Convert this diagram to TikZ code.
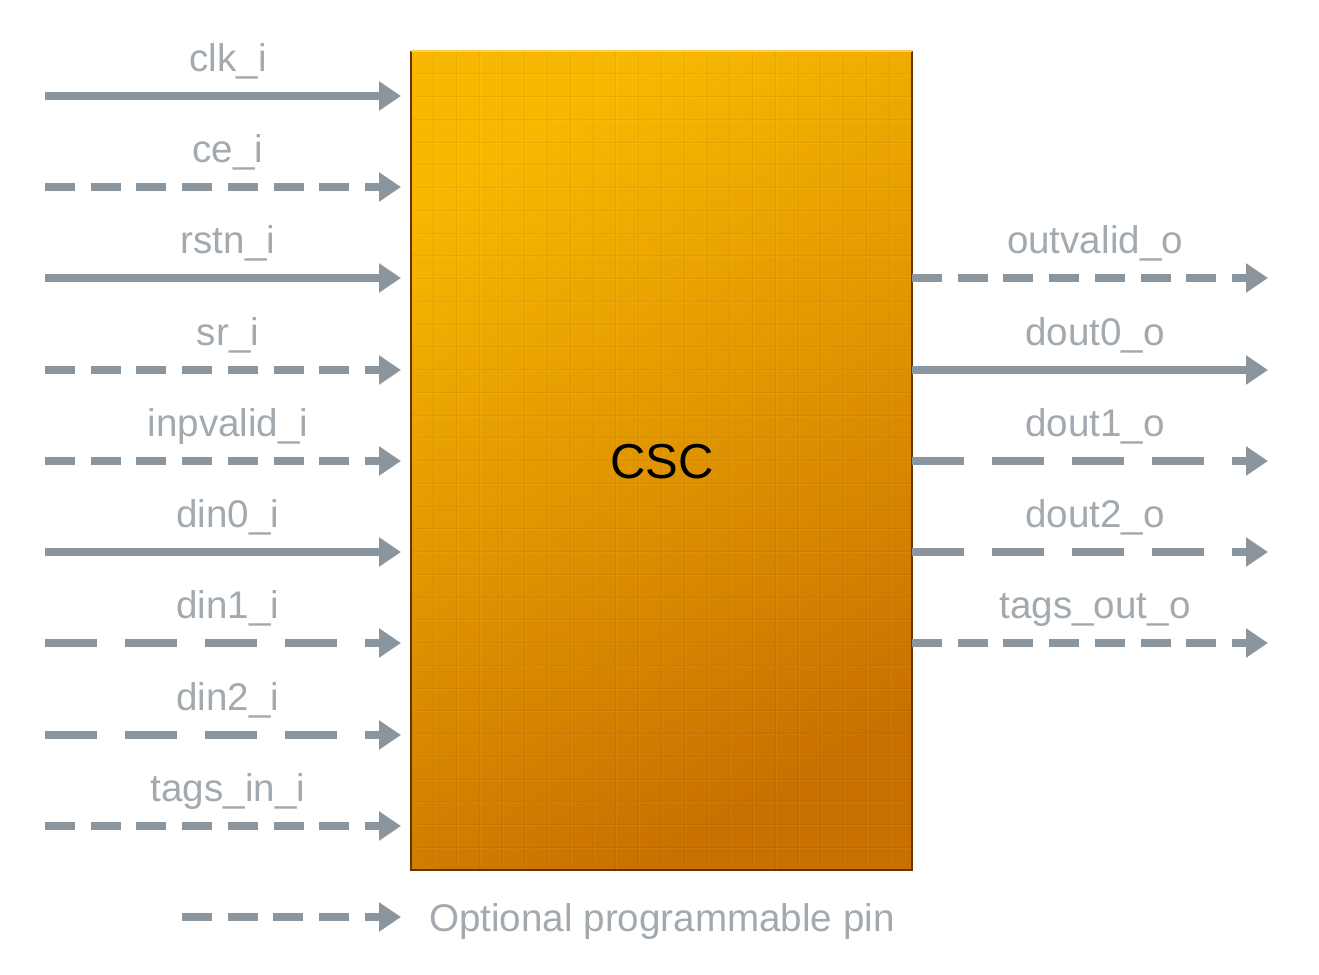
\documentclass[tikz,border=0pt]{standalone}
\usepackage{fontspec}
\setmainfont{Liberation Sans}
\usetikzlibrary{arrows.meta}
\definecolor{pin}{HTML}{8B959D}
\definecolor{pinhi}{HTML}{B3BBC1}
\definecolor{lbl}{HTML}{A2AAB0}
\definecolor{boxa}{HTML}{F8B800}
\definecolor{boxb}{HTML}{C87000}
\definecolor{boxedge}{HTML}{6A3400}
\tikzset{
  pinline/.style={draw=pin, line width=8pt, line cap=butt,
    -{Triangle[length=22pt,width=28pt]}},
  shortdash/.style={dash pattern=on 30pt off 15.7pt},
  longdash/.style={dash pattern=on 52pt off 28pt},
  pinlabel/.style={text=lbl, font=\fontsize{38.6}{40}\selectfont, inner sep=0pt, anchor=base},
}
\begin{document}
\begin{tikzpicture}[x=1pt,y=-1pt]
\useasboundingbox (0,0) rectangle (1319,974);
% block
\node[draw=none, minimum width=501pt, minimum height=819pt, inner sep=0pt] (csc) at (661.5,460.5) {};
\shade[top color=boxa, bottom color=boxb, shading angle=30] (csc.south west) rectangle (csc.north east);
\begin{scope}
\clip (csc.south west) rectangle (csc.north east);
\foreach \i in {1,...,21} \draw[black, opacity=0.05, line width=1pt] (411+\i*22.77,51) -- (411+\i*22.77,870);
\foreach \j in {1,...,35} \draw[black, opacity=0.05, line width=1pt] (411,51+\j*22.75) -- (912,51+\j*22.75);
\foreach \i in {1,...,21} \draw[white, opacity=0.06, line width=1pt] (412+\i*22.77,51) -- (412+\i*22.77,870);
\foreach \j in {1,...,35} \draw[white, opacity=0.06, line width=1pt] (411,52+\j*22.75) -- (912,52+\j*22.75);
\end{scope}
\draw[boxedge, line width=2pt] (csc.north west) -- (csc.south west) -- (csc.south east) -- (csc.north east);
\draw[boxa!70!white, line width=1.5pt] (csc.north west) -- (csc.north east);
\node[font=\fontsize{49}{50}\selectfont, inner sep=0pt, anchor=base] (csclbl) at (662,478) {CSC};
% inputs
\foreach \n/\y/\sty/\t in {clk/96/solid/clk\_i, ce/187/shortdash/ce\_i, rstn/278/solid/rstn\_i,
  sr/370/shortdash/sr\_i, inpvalid/461/shortdash/inpvalid\_i, dinz/552/solid/din0\_i,
  dina/643/longdash/din1\_i, dinb/735/longdash/din2\_i, tags/826/shortdash/tags\_in\_i}{
  \coordinate (\n-s) at (45,\y);
  \coordinate (\n-e) at (401,\y);
  \draw[pinline, \sty] (\n-s) -- (\n-e);
  \node[pinlabel] (\n-l) at (228,\y-25) {\t};
}
% outputs
\foreach \n/\y/\sty/\t in {outvalid/278/shortdash/outvalid\_o, doutz/370/solid/dout0\_o,
  douta/461/longdash/dout1\_o, doutb/552/longdash/dout2\_o, tagso/643/shortdash/tags\_out\_o}{
  \coordinate (\n-s) at (912,\y);
  \coordinate (\n-e) at (1268,\y);
  \draw[pinline, \sty] (\n-s) -- (\n-e);
  \node[pinlabel] (\n-l) at (1095,\y-25) {\t};
}
% legend
\coordinate (leg-s) at (182,917);
\coordinate (leg-e) at (401,917);
\draw[pinline, shortdash] (leg-s) -- (leg-e);
\node[pinlabel, anchor=base west] (legtxt) at (429,931) {Optional programmable pin};
\end{tikzpicture}
\end{document}
